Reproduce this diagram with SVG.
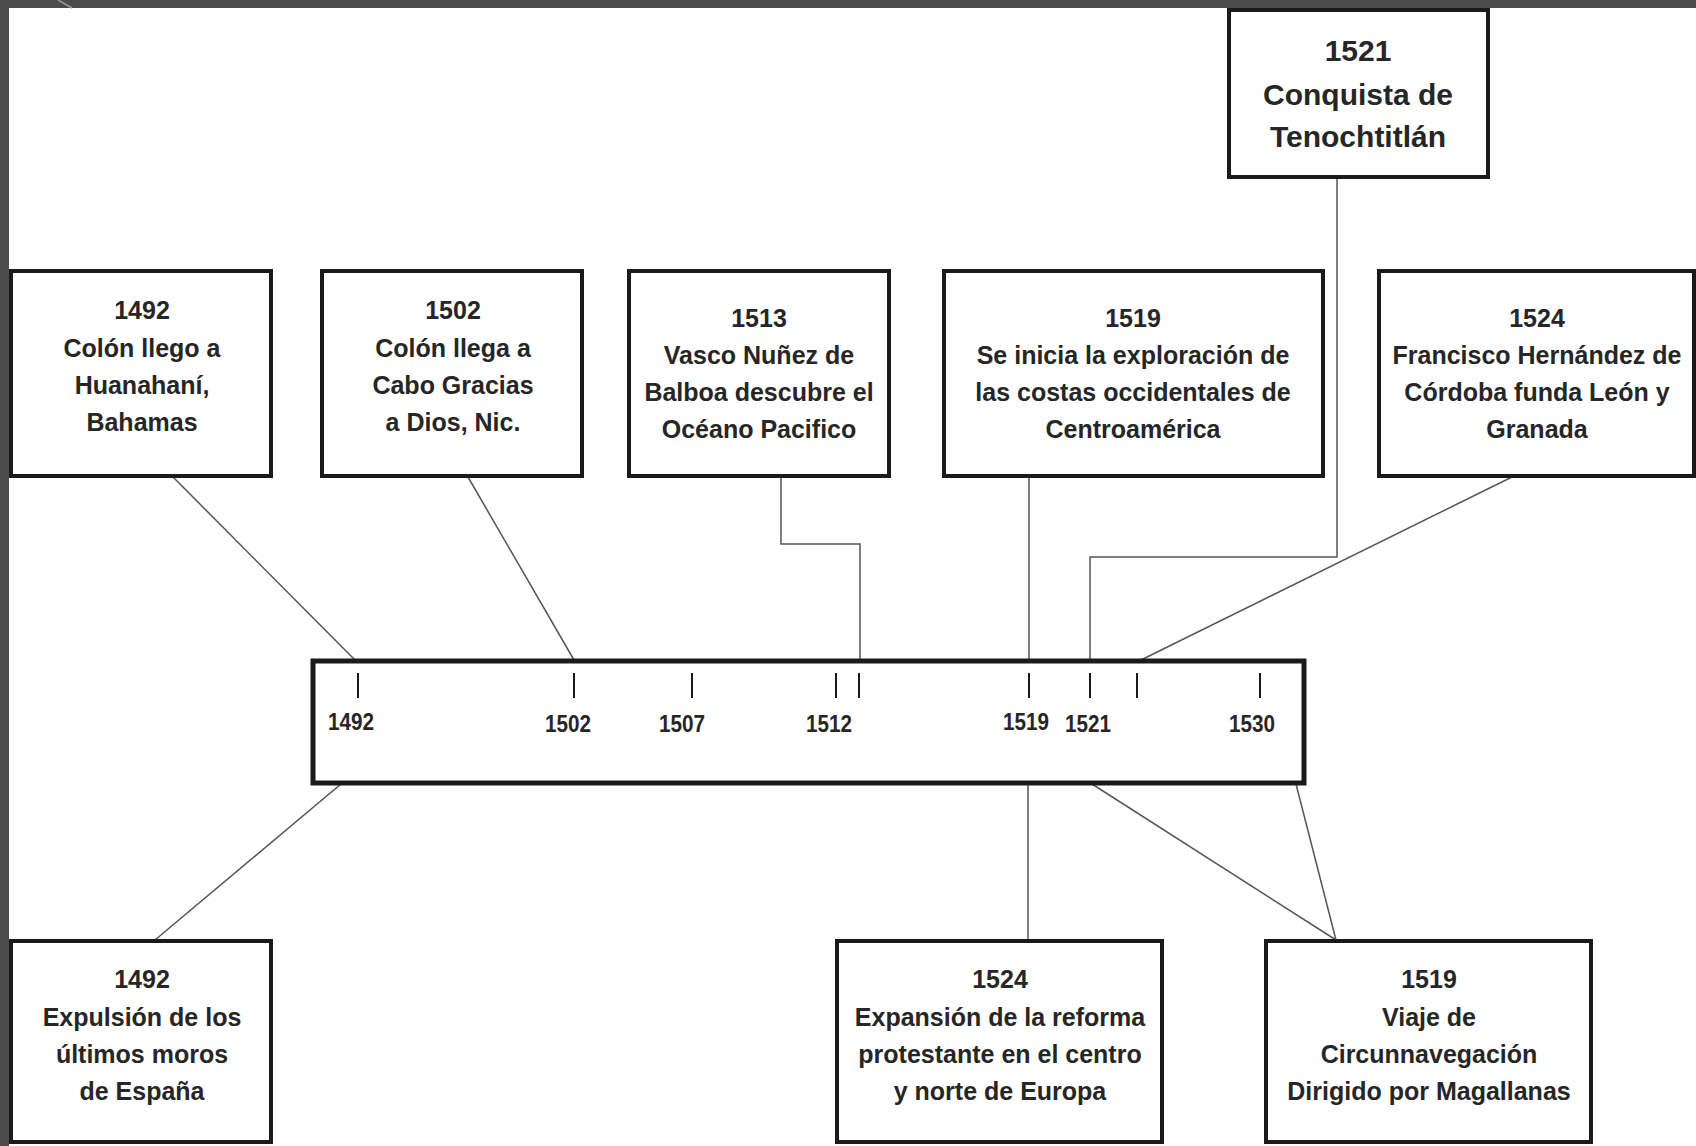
<svg xmlns="http://www.w3.org/2000/svg" width="1696" height="1146" viewBox="0 0 1696 1146">
<style>
.box{fill:#fff;stroke:#1a1a1a;stroke-width:4}
.bar{fill:#fff;stroke:#1a1a1a;stroke-width:5}
.t{font-family:"Liberation Sans",Arial,sans-serif;font-weight:bold;font-size:25px;fill:#262626;text-anchor:middle}
.big{font-size:30px}
.lbl{font-family:"Liberation Sans",Arial,sans-serif;font-weight:bold;font-size:24px;fill:#262626;text-anchor:middle}
.c{fill:none;stroke:#555;stroke-width:1.5}
.tick{stroke:#1a1a1a;stroke-width:2}
</style>
<rect x="0" y="0" width="1696" height="1146" fill="#fff"/>
<rect x="0" y="0" width="1696" height="8" fill="#4b4b4b"/>
<rect x="0" y="0" width="9" height="1146" fill="#4b4b4b"/>
<line x1="58" y1="0" x2="72" y2="8" stroke="#9a9a9a" stroke-width="1.5"/>

<g id="connectors">
<line class="c" x1="173" y1="477" x2="355" y2="660"/>
<line class="c" x1="468" y1="477" x2="574" y2="660"/>
<polyline class="c" points="781,477 781,544 860,544 860,660"/>
<line class="c" x1="1029" y1="477" x2="1029" y2="660"/>
<polyline class="c" points="1337,177 1337,557 1090,557 1090,660"/>
<line class="c" x1="1512" y1="477" x2="1141" y2="660"/>
<line class="c" x1="341" y1="784" x2="155" y2="940"/>
<line class="c" x1="1028" y1="784" x2="1028" y2="940"/>
<line class="c" x1="1092" y1="784" x2="1336" y2="940"/>
<line class="c" x1="1296" y1="784" x2="1336" y2="940"/>
</g>

<g id="timeline">
<rect class="bar" x="313" y="661" width="991" height="122"/>
<line class="tick" x1="358" y1="673" x2="358" y2="698"/>
<line class="tick" x1="574" y1="673" x2="574" y2="698"/>
<line class="tick" x1="692" y1="673" x2="692" y2="698"/>
<line class="tick" x1="836" y1="673" x2="836" y2="698"/>
<line class="tick" x1="859" y1="673" x2="859" y2="698"/>
<line class="tick" x1="1029" y1="673" x2="1029" y2="698"/>
<line class="tick" x1="1090" y1="673" x2="1090" y2="698"/>
<line class="tick" x1="1137" y1="673" x2="1137" y2="698"/>
<line class="tick" x1="1260" y1="673" x2="1260" y2="698"/>
<text class="lbl" x="351" y="730" textLength="46" lengthAdjust="spacingAndGlyphs">1492</text>
<text class="lbl" x="568" y="732" textLength="46" lengthAdjust="spacingAndGlyphs">1502</text>
<text class="lbl" x="682" y="732" textLength="46" lengthAdjust="spacingAndGlyphs">1507</text>
<text class="lbl" x="829" y="732" textLength="46" lengthAdjust="spacingAndGlyphs">1512</text>
<text class="lbl" x="1026" y="730" textLength="46" lengthAdjust="spacingAndGlyphs">1519</text>
<text class="lbl" x="1088" y="732" textLength="46" lengthAdjust="spacingAndGlyphs">1521</text>
<text class="lbl" x="1252" y="732" textLength="46" lengthAdjust="spacingAndGlyphs">1530</text>
</g>

<g id="n1521">
<rect class="box" x="1229" y="10" width="259" height="167"/>
<text class="t big" x="1358" y="61">1521</text>
<text class="t big" x="1358" y="105">Conquista de</text>
<text class="t big" x="1358" y="147">Tenochtitlán</text>
</g>

<g id="n1492a">
<rect class="box" x="11" y="271" width="260" height="205"/>
<text class="t" x="142" y="319">1492</text>
<text class="t" x="142" y="357">Colón llego a</text>
<text class="t" x="142" y="394">Huanahaní,</text>
<text class="t" x="142" y="431">Bahamas</text>
</g>

<g id="n1502">
<rect class="box" x="322" y="271" width="260" height="205"/>
<text class="t" x="453" y="319">1502</text>
<text class="t" x="453" y="357">Colón llega a</text>
<text class="t" x="453" y="394">Cabo Gracias</text>
<text class="t" x="453" y="431">a Dios, Nic.</text>
</g>

<g id="n1513">
<rect class="box" x="629" y="271" width="260" height="205"/>
<text class="t" x="759" y="327">1513</text>
<text class="t" x="759" y="364">Vasco Nuñez de</text>
<text class="t" x="759" y="401">Balboa descubre el</text>
<text class="t" x="759" y="438">Océano Pacifico</text>
</g>

<g id="n1519a">
<rect class="box" x="944" y="271" width="379" height="205"/>
<text class="t" x="1133" y="327">1519</text>
<text class="t" x="1133" y="364">Se inicia la exploración de</text>
<text class="t" x="1133" y="401">las costas occidentales de</text>
<text class="t" x="1133" y="438">Centroamérica</text>
</g>

<g id="n1524a">
<rect class="box" x="1379" y="271" width="315" height="205"/>
<text class="t" x="1537" y="327">1524</text>
<text class="t" x="1537" y="364">Francisco Hernández de</text>
<text class="t" x="1537" y="401">Córdoba funda León y</text>
<text class="t" x="1537" y="438">Granada</text>
</g>

<g id="n1492b">
<rect class="box" x="11" y="941" width="260" height="201"/>
<text class="t" x="142" y="988">1492</text>
<text class="t" x="142" y="1026">Expulsión de los</text>
<text class="t" x="142" y="1063">últimos moros</text>
<text class="t" x="142" y="1100">de España</text>
</g>

<g id="n1524b">
<rect class="box" x="837" y="941" width="325" height="201"/>
<text class="t" x="1000" y="988">1524</text>
<text class="t" x="1000" y="1026">Expansión de la reforma</text>
<text class="t" x="1000" y="1063">protestante en el centro</text>
<text class="t" x="1000" y="1100">y norte de Europa</text>
</g>

<g id="n1519b">
<rect class="box" x="1266" y="941" width="325" height="201"/>
<text class="t" x="1429" y="988">1519</text>
<text class="t" x="1429" y="1026">Viaje de</text>
<text class="t" x="1429" y="1063">Circunnavegación</text>
<text class="t" x="1429" y="1100">Dirigido por Magallanas</text>
</g>
</svg>
